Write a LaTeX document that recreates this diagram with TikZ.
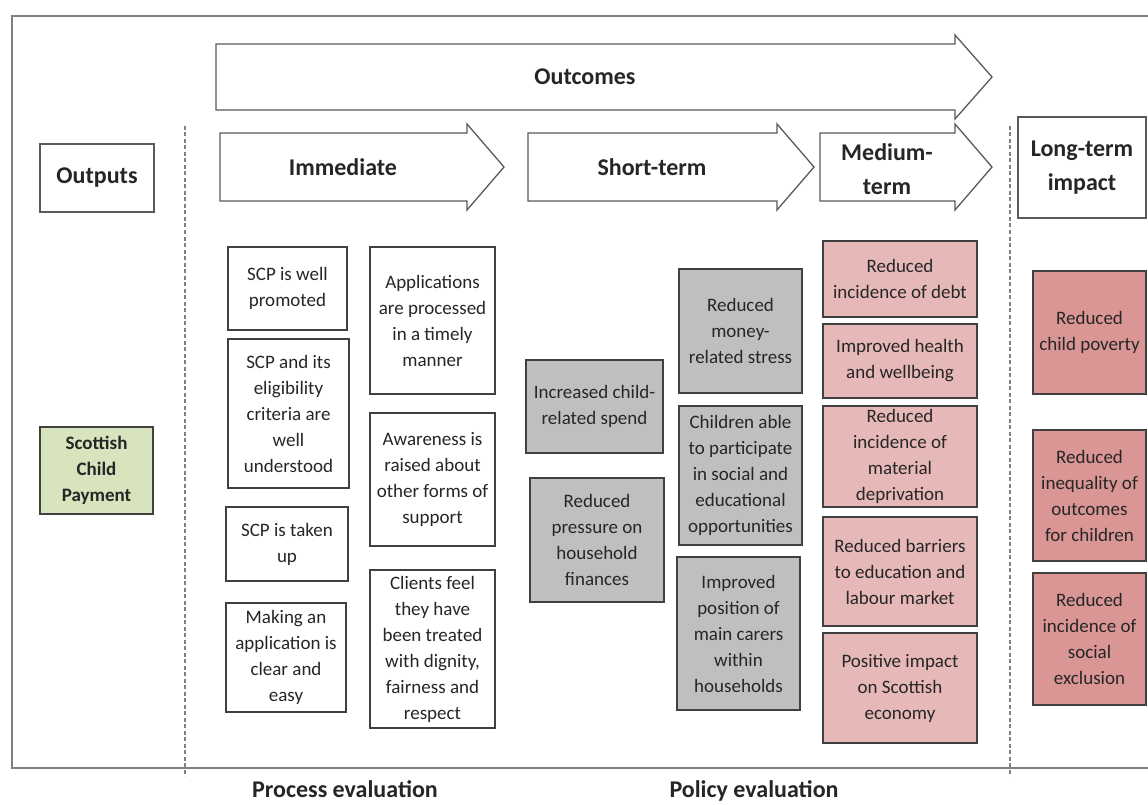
\documentclass[tikz,border=0pt]{standalone}
\usepackage{fontspec}
\setmainfont{Carlito}
\definecolor{txt}{HTML}{262626}
\definecolor{edge}{HTML}{404040}
\definecolor{frm}{HTML}{808080}
\definecolor{arrc}{HTML}{5A5A5A}
\definecolor{grayfill}{HTML}{BFBFBF}
\definecolor{pinkA}{HTML}{E6B8B7}
\definecolor{pinkB}{HTML}{DA9694}
\definecolor{greenA}{HTML}{D7E4BD}
\newcommand\mkbox[7]{\node[#2,minimum width={(#5-#3)*1pt},minimum height={(#6-#4)*1pt}] (#1) at ({(#3+#5)/2},{(#4+#6)/2}) {#7};}
\begin{document}
\begin{tikzpicture}[x=1pt,y=-1pt,
  every node/.style={text=txt},
  box/.style={draw=edge, line width=1.3pt, align=center, inner sep=0pt, font=\fontsize{19}{26}\selectfont},
  whitebox/.style={box, fill=white},
  graybox/.style={box, fill=grayfill},
  pinkbox/.style={box, fill=pinkA},
  redbox/.style={box, fill=pinkB},
  greenbox/.style={box, fill=greenA, font=\fontsize{19}{26}\selectfont\bfseries},
  headbox/.style={draw=arrc, line width=1.3pt, fill=white, align=center, inner sep=0pt, font=\fontsize{24}{34}\selectfont\bfseries},
  title/.style={align=center, inner sep=0pt, font=\fontsize{24}{34}\selectfont\bfseries},
  arr/.style={draw=arrc, line width=1.3pt, fill=white, line join=miter},
  frame/.style={draw=frm, line width=1.8pt},
  sep/.style={draw=frm, line width=1.2pt, dash pattern=on 4pt off 2.5pt}
]
\clip (0,0) rectangle (1148,805);
\fill[white] (0,0) rectangle (1148,805);

% frame
\draw[frame] (1170,16) -- (12,16) -- (12,768) -- (1170,768);

% separators
\draw[sep] (185,126) -- (185,776);
\draw[sep] (1010,126) -- (1010,776);

% big outcomes arrow
\draw[arr] (216,44) -- (955,44) -- (955,35) -- (992,77) -- (955,119) -- (955,110) -- (216,110) -- cycle;
\node[title] (outcomes) at (585,77) {Outcomes};

% row arrows
\draw[arr] (220,133) -- (467,133) -- (467,124) -- (504,167) -- (467,210) -- (467,201) -- (220,201) -- cycle;
\node[title] (immediate) at (343,167) {Immediate};
\draw[arr] (528,133) -- (777,133) -- (777,124) -- (814,167) -- (777,210) -- (777,201) -- (528,201) -- cycle;
\node[title] (shortterm) at (652,167) {Short-term};
\draw[arr] (820,133) -- (955,133) -- (955,124) -- (992,167) -- (955,210) -- (955,201) -- (820,201) -- cycle;
\node[title] (mediumterm) at (887,169) {Medium-\\term};

% header boxes
\mkbox{outputs}{headbox}{40}{144}{154}{212}{Outputs}
\mkbox{longterm}{headbox}{1018}{117}{1146}{218}{Long-term\\impact}

% output
\mkbox{scp}{greenbox}{40}{427}{153}{514}{Scottish\\Child\\Payment}

% immediate
\mkbox{a1}{whitebox}{228}{247}{347}{330}{SCP is well\\promoted}
\mkbox{a2}{whitebox}{228}{339}{349}{488}{SCP and its\\eligibility\\criteria are\\well\\understood}
\mkbox{a3}{whitebox}{226}{507}{348}{581}{SCP is taken\\up}
\mkbox{a4}{whitebox}{226}{603}{346}{712}{Making an\\application is\\clear and\\easy}
\mkbox{b1}{whitebox}{370}{247}{495}{394}{Applications\\are processed\\in a timely\\manner}
\mkbox{b2}{whitebox}{370}{413}{495}{546}{Awareness is\\raised about\\other forms of\\support}
\mkbox{b3}{whitebox}{370}{570}{495}{728}{Clients feel\\they have\\been treated\\with dignity,\\fairness and\\respect}

% short-term
\mkbox{c1}{graybox}{526}{360}{663}{453}{Increased child-\\related spend}
\mkbox{c2}{graybox}{530}{478}{664}{602}{Reduced\\pressure on\\household\\finances}
\mkbox{d1}{graybox}{679}{269}{802}{393}{Reduced\\money-\\related stress}
\mkbox{d2}{graybox}{679}{406}{802}{545}{Children able\\to participate\\in social and\\educational\\opportunities}
\mkbox{d3}{graybox}{677}{557}{800}{710}{Improved\\position of\\main carers\\within\\households}

% medium-term
\mkbox{e1}{pinkbox}{823}{241}{977}{317}{Reduced\\incidence of debt}
\mkbox{e2}{pinkbox}{823}{324}{977}{398}{Improved health\\and wellbeing}
\mkbox{e3}{pinkbox}{823}{406}{977}{507}{Reduced\\incidence of\\material\\deprivation}
\mkbox{e4}{pinkbox}{823}{517}{977}{626}{Reduced barriers\\to education and\\labour market}
\mkbox{e5}{pinkbox}{823}{633}{977}{743}{Positive impact\\on Scottish\\economy}

% long-term
\mkbox{f1}{redbox}{1033}{271}{1146}{394}{Reduced\\child poverty}
\mkbox{f2}{redbox}{1033}{430}{1146}{561}{Reduced\\inequality of\\outcomes\\for children}
\mkbox{f3}{redbox}{1033}{573}{1146}{705}{Reduced\\incidence of\\social\\exclusion}

% bottom labels
\node[title, anchor=base] (process) at (345,797) {Process evaluation};
\node[title, anchor=base] (policy) at (754,797) {Policy evaluation};
\end{tikzpicture}
\end{document}
